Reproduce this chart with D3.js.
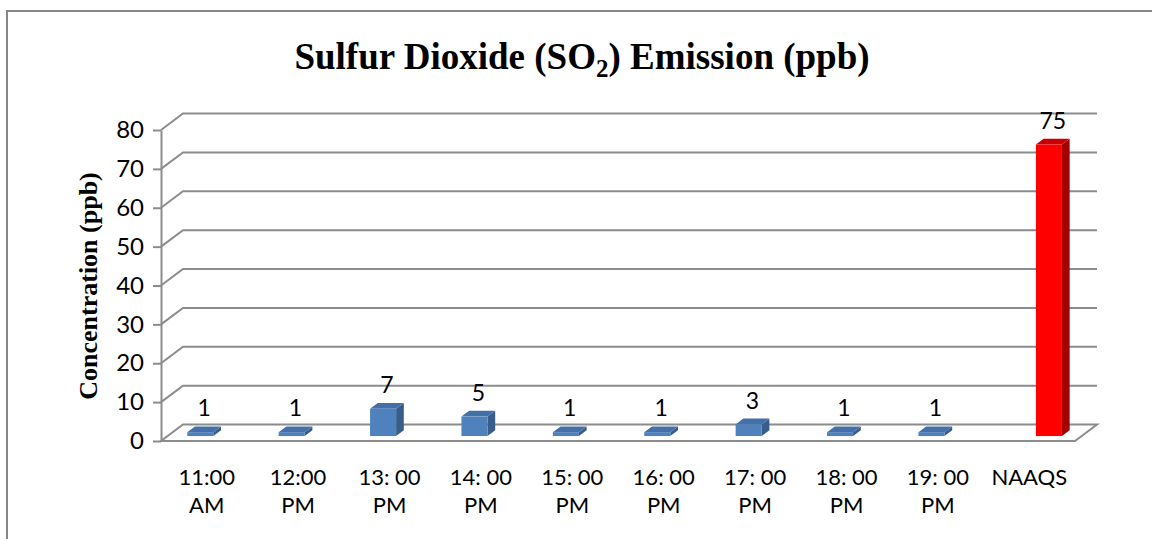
<!DOCTYPE html>
<html lang="en">
<head>
<meta charset="utf-8">
<title>Sulfur Dioxide Emission</title>
<script src="https://d3js.org/d3.v7.min.js"></script>
<style>
  body { margin: 0; background: #fff; }
  .tick text, .lbl { font-family: Lato, "Open Sans", sans-serif; fill: #000; }
</style>
</head>
<body>
<div id="chart"></div>
<script>
// data
var categories = ["11:00 AM", "12:00 PM", "13: 00 PM", "14: 00 PM", "15: 00 PM",
  "16: 00 PM", "17: 00 PM", "18: 00 PM", "19: 00 PM", "NAAQS"];
var categoryLines = [["11:00", "AM"], ["12:00", "PM"], ["13: 00", "PM"], ["14: 00", "PM"], ["15: 00", "PM"],
  ["16: 00", "PM"], ["17: 00", "PM"], ["18: 00", "PM"], ["19: 00", "PM"], ["NAAQS"]];
var series = ["SO2", "NAAQS"];
var so2Values = [1, 1, 7, 5, 1, 1, 3, 1, 1, null];
var naaqsValues = [null, null, null, null, null, null, null, null, null, 75];
var yTicks = [0, 10, 20, 30, 40, 50, 60, 70, 80];

var W = 1152, H = 539;
var svg = d3.select("#chart").append("svg").attr("width", W).attr("height", H);

// outer frame
svg.append("rect").attr("x", 7).attr("y", 11).attr("width", W + 20).attr("height", H + 20)
  .attr("fill", "none").attr("stroke", "#878787").attr("stroke-width", 2);

// front plane of the 3d box + depth vector
var pLeft = 161, pRight = 1075, pBottom = 441, pTop = 130;
var dx = 22, dy = -16.5;

var x = d3.scaleBand().domain(categories).range([pLeft, pRight]).paddingInner(0.43).paddingOuter(0.215);
var x1 = d3.scaleBand().domain(series).range([0, x.bandwidth()]);
var y = d3.scaleLinear().domain([0, 80]).range([pBottom, pTop]);

var grid = svg.append("g").attr("stroke", "#8c8c8c").attr("stroke-width", 2).attr("fill", "none");

// back wall + side wall lines
yTicks.forEach(function (t) {
  if (t === 0) return;
  grid.append("path").attr("d", "M" + pLeft + "," + y(t) + "L" + (pLeft + dx) + "," + (y(t) + dy) +
    "L" + (pRight + dx) + "," + (y(t) + dy));
});
// floor
grid.append("path").attr("d", "M" + pLeft + "," + pBottom + "L" + pRight + "," + pBottom +
  "L" + (pRight + dx) + "," + (pBottom + dy) + "L" + (pLeft + dx) + "," + (pBottom + dy) + "Z");

// y axis
var yAxis = svg.append("g").attr("transform", "translate(" + pLeft + ",0)")
  .call(d3.axisLeft(y).tickValues(yTicks).tickSizeOuter(0).tickSizeInner(8).tickPadding(9));
yAxis.select(".domain").attr("stroke", "#8c8c8c").attr("stroke-width", 2);
yAxis.selectAll(".tick line").attr("stroke", "#8c8c8c").attr("stroke-width", 2);
yAxis.selectAll(".tick text").attr("font-size", 24);

// bars
var f0 = 0.3, f1 = 0.65;
var colors = {
  SO2: { front: "#4f81bd", side: "#385d8a", top: "#4370a8" },
  NAAQS: { front: "#ff0000", side: "#a50000", top: "#c80000" }
};

function drawBars(values, name) {
  var c = colors[name];
  values.forEach(function (v, i) {
    if (v == null) return;
    var x0 = x(categories[i]) + x1(name) + dx * f0;
    var w = x1.bandwidth();
    var yb = y(0) + dy * f0, yt = y(v) + dy * f0;
    var ox = dx * (f1 - f0), oy = dy * (f1 - f0);
    var g = svg.append("g");
    g.append("path").attr("fill", c.side)
      .attr("d", "M" + (x0 + w) + "," + yb + "L" + (x0 + w + ox) + "," + (yb + oy) +
        "L" + (x0 + w + ox) + "," + (yt + oy) + "L" + (x0 + w) + "," + yt + "Z");
    g.append("path").attr("fill", c.top)
      .attr("d", "M" + x0 + "," + yt + "L" + (x0 + w) + "," + yt + "L" + (x0 + w + ox) + "," + (yt + oy) +
        "L" + (x0 + ox) + "," + (yt + oy) + "Z");
    g.append("rect").attr("fill", c.front).attr("x", x0).attr("y", yt)
      .attr("width", w).attr("height", Math.max(0, yb - yt));
    svg.append("text").attr("class", "lbl").attr("font-size", 23).attr("text-anchor", "middle")
      .attr("x", x0 + w / 2 + ox / 2).attr("y", yt + oy - 10).text(v);
  });
}
drawBars(so2Values, "SO2");
drawBars(naaqsValues, "NAAQS");

// category labels
categories.forEach(function (cat, i) {
  var t = svg.append("text").attr("class", "lbl").attr("font-size", 22).attr("text-anchor", "middle")
    .attr("x", x(cat) + x.bandwidth() / 2).attr("y", 485);
  categoryLines[i].forEach(function (line, k) {
    t.append("tspan").attr("x", x(cat) + x.bandwidth() / 2).attr("dy", k === 0 ? 0 : 28).text(line);
  });
});

// axis title
svg.append("text").attr("transform", "translate(97,286) rotate(-90)")
  .attr("text-anchor", "middle").attr("font-family", "'Liberation Serif', 'Times New Roman', serif")
  .attr("font-weight", "bold").attr("font-size", 26).text("Concentration (ppb)");

// chart title
var title = svg.append("text").attr("x", 582).attr("y", 69).attr("text-anchor", "middle")
  .attr("font-family", "'Liberation Serif', 'Times New Roman', serif")
  .attr("font-weight", "bold").attr("font-size", 37);
title.append("tspan").text("Sulfur Dioxide (SO");
title.append("tspan").attr("font-size", 25).attr("dy", 8).text("2");
title.append("tspan").attr("dy", -8).text(") Emission (ppb)");
</script>
</body>
</html>
